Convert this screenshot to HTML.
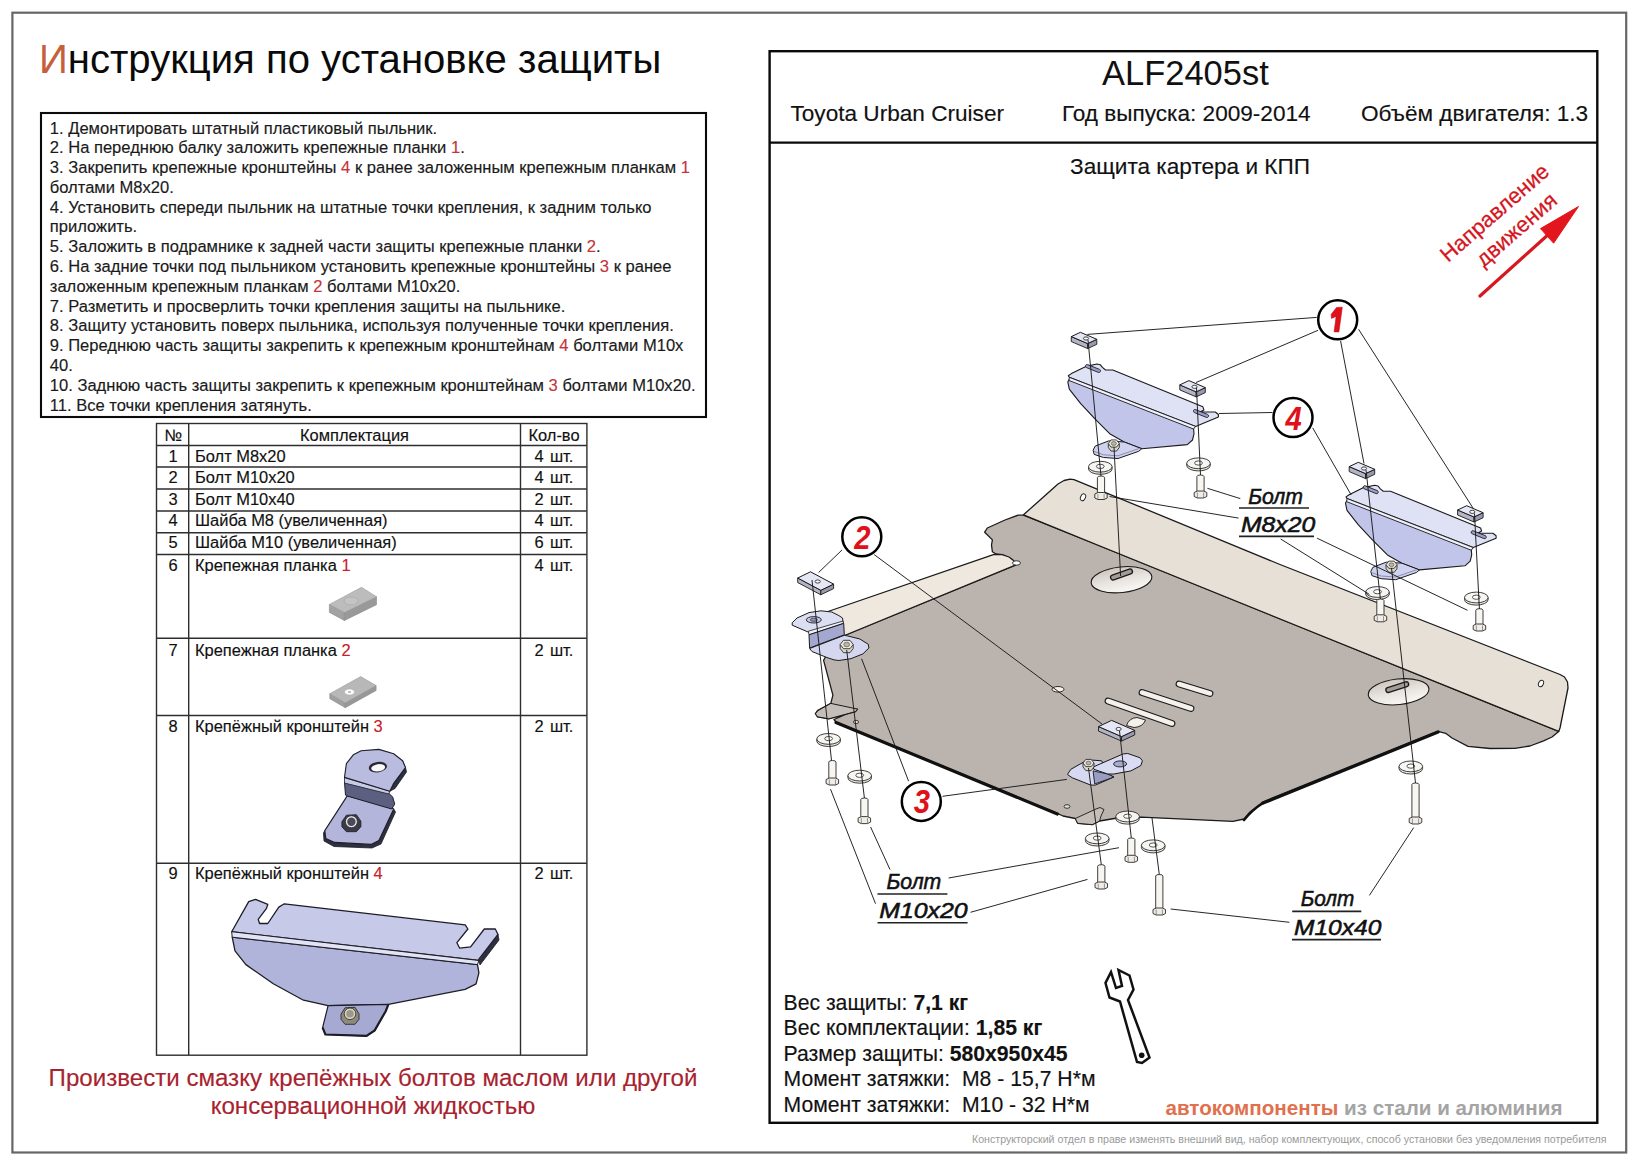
<!DOCTYPE html>
<html lang="ru">
<head>
<meta charset="utf-8">
<title>ALF2405st — Инструкция по установке защиты</title>
<style>
html,body{margin:0;padding:0;background:#fff;}
body{width:1642px;height:1168px;position:relative;overflow:hidden;font-family:"Liberation Sans",sans-serif;color:#111;}
#steps,.cell,#specs,.hdr,#foot{-webkit-text-stroke:0.15px currentColor;}
.abs{position:absolute;white-space:nowrap;}
.r{color:#c8202c;}
#title{left:39px;top:38.5px;font-size:40.1px;line-height:40px;color:#0a0a0a;}
#title .first{color:#c4603a;}
#steps{left:49.8px;top:118.5px;font-size:16.56px;line-height:19.8px;color:#1a1a1a;}
#steps .r{color:#c4343a;}
.cell{position:absolute;font-size:16.45px;line-height:20px;white-space:nowrap;color:#111;}
.num{text-align:center;width:32px;left:157px;}
.qty{text-align:center;width:66px;left:521px;word-spacing:1.6px;}
.name{left:195px;}
#foot{left:0;width:746px;text-align:center;top:1063.5px;font-size:24.1px;line-height:28px;color:#a8222e;}
.hdr{font-size:22.6px;line-height:26px;color:#111;}
#specs{left:783.5px;top:990px;font-size:21.2px;line-height:25.4px;color:#111;}
#specs b{font-weight:bold;}
#logo{left:1165.5px;top:1096px;font-size:20.6px;line-height:24px;font-weight:bold;}
#logo .a{color:#e0704e;}
#logo .b{color:#a4a4a4;}
#discl{left:972px;top:1133px;font-size:10.65px;line-height:12px;color:#9a9a9a;}
svg{position:absolute;left:0;top:0;}
</style>
</head>
<body>
<svg id="frame" width="1642" height="1168" viewBox="0 0 1642 1168">
  <!-- outer page border -->
  <rect x="12.4" y="12.7" width="1613.8" height="1139.8" fill="none" stroke="#666" stroke-width="2.2"/>
  <!-- instructions box -->
  <rect x="41" y="113" width="665" height="304" fill="none" stroke="#0a0a0a" stroke-width="2.1"/>
  <!-- right panel -->
  <rect x="769.6" y="51.2" width="827.7" height="1071.6" fill="none" stroke="#0a0a0a" stroke-width="2.4"/>
  <line x1="769" y1="142.6" x2="1597" y2="142.6" stroke="#0a0a0a" stroke-width="2.2"/>
  <!-- table -->
  <g stroke="#2e2e2e" stroke-width="1.4" fill="none">
    <rect x="156.5" y="423.5" width="430.4" height="631.7"/>
    <line x1="188.7" y1="424" x2="188.7" y2="1055"/>
    <line x1="520.5" y1="424" x2="520.5" y2="1055"/>
    <line x1="156.5" y1="445.5" x2="586.9" y2="445.5"/>
    <line x1="156.5" y1="467" x2="586.9" y2="467"/>
    <line x1="156.5" y1="489" x2="586.9" y2="489"/>
    <line x1="156.5" y1="511" x2="586.9" y2="511"/>
    <line x1="156.5" y1="532.7" x2="586.9" y2="532.7"/>
    <line x1="156.5" y1="554.5" x2="586.9" y2="554.5"/>
    <line x1="156.5" y1="638.3" x2="586.9" y2="638.3"/>
    <line x1="156.5" y1="715.5" x2="586.9" y2="715.5"/>
    <line x1="156.5" y1="863.3" x2="586.9" y2="863.3"/>
  </g>
<polygon points="329.4,604.4 344.4,612.5 344.4,620.5 329.4,612.4" fill="#a2a2a2" stroke="#8a8a8a" stroke-width="0.6" stroke-linejoin="round"/>
<polygon points="344.4,612.5 376.5,596.7 376.5,604.7 344.4,620.5" fill="#999999" stroke="#8a8a8a" stroke-width="0.6" stroke-linejoin="round"/>
<polygon points="329.4,604.4 361.5,587.3 376.5,596.7 344.4,612.5" fill="#bcbcbc" stroke="#9a9a9a" stroke-width="0.6" stroke-linejoin="round"/>
<ellipse cx="351" cy="601" rx="7" ry="4" fill="#c4c4c4" stroke="#a6a6a6" stroke-width="0.6"/>
<polygon points="329.8,693.7 345.3,702.7 345.3,707.7 329.8,698.7" fill="#a0a0a0" stroke="#8a8a8a" stroke-width="0.6" stroke-linejoin="round"/>
<polygon points="345.3,702.7 376.1,685.5 376.1,690.5 345.3,707.7" fill="#989898" stroke="#8a8a8a" stroke-width="0.6" stroke-linejoin="round"/>
<polygon points="329.8,693.7 360.7,676.6 376.1,685.5 345.3,702.7" fill="#b8b8b8" stroke="#9a9a9a" stroke-width="0.6" stroke-linejoin="round"/>
<ellipse cx="349.5" cy="692" rx="5" ry="3" fill="#fff" stroke="#aaa" stroke-width="0.5"/>
<ellipse cx="349.5" cy="692" rx="1.8" ry="1.1" fill="#bbb"/>
<polygon points="324.8,830.6 325.8,838.5 334.6,842.4 371.1,844.4 378.9,840.4 393.7,809.0 395.5,812.0 381.0,844.0 372.0,848.0 334.0,846.5 324.0,841.0 323.5,833.0" fill="#2e2f40" stroke="#1d1d28" stroke-width="0.8" stroke-linejoin="round"/>
<polygon points="347.4,795.6 391.7,808.0 393.7,809.0 378.9,840.4 371.1,844.4 334.6,842.4 325.8,838.5 324.8,830.6" fill="#b3b6da" stroke="#1d1d28" stroke-width="1.1" stroke-linejoin="round"/>
<polygon points="344.5,782.3 388.8,793.2 392.7,797.1 394.7,804.0 391.7,809.0 347.4,796.1 345.5,795.1" fill="#5d5f80" stroke="#1d1d28" stroke-width="1.0" stroke-linejoin="round"/>
<polygon points="344.5,777.4 389.8,791.2 388.8,794.0 344.5,783.0" fill="#c9cbe6" stroke="#1d1d28" stroke-width="0.8" stroke-linejoin="round"/>
<polygon points="402.6,760.7 405.5,767.6 406.5,772.0 395.0,788.5 389.8,791.2 393.7,783.3" fill="#2e2f40" stroke="#1d1d28" stroke-width="0.8" stroke-linejoin="round"/>
<polygon points="344.5,777.4 346.4,763.6 353.3,754.8 361.2,750.8 378.9,749.4 393.7,753.8 402.6,760.7 405.5,767.6 393.7,783.3 389.8,791.2" fill="#babcdf" stroke="#1d1d28" stroke-width="1.1" stroke-linejoin="round"/>
<ellipse cx="377.9" cy="767.1" rx="9.2" ry="5.2" transform="rotate(-8 377.9 767.1)" fill="#2a2a38"/>
<ellipse cx="378.2" cy="767.8" rx="7" ry="3.6" transform="rotate(-8 378.2 767.8)" fill="#fafafa"/>
<polygon points="341.9,821.7 346.4,815.2 356.4,814.7 360.9,821.2 360.9,826.7 356.4,831.7 346.4,831.7 341.9,826.7" fill="#3a3a46" stroke="#1d1d28" stroke-width="0.8"/>
<circle cx="351.4" cy="821.7" r="6" fill="#e8e8ec" stroke="#2a2a2a" stroke-width="0.8"/>
<circle cx="351.4" cy="821.7" r="4.2" fill="#4a4a56"/>
<polygon points="232.2,937.2 477.5,964.6 478.9,972.8 476.1,983.8 465.2,989.3 388.4,1004.4 328.1,1005.7 303.5,1000.2 273.3,983.8 245.9,964.6 235.0,950.9" fill="#b0b3da" stroke="#1d1d28" stroke-width="1.3" stroke-linejoin="round"/>
<polygon points="328.1,1005.7 388.4,1004.4 385.7,1011.2 374.7,1030.4 366.5,1035.9 325.4,1034.5 322.6,1027.6" fill="#a6a9d2" stroke="#1d1d28" stroke-width="1.2" stroke-linejoin="round"/>
<path d="M322.6,1027.6 L325.4,1034.5 L366.5,1035.9 L374.7,1030.4 L385.7,1011.2 L388.4,1004.4" fill="none" stroke="#1d1d28" stroke-width="2.2"/>
<polygon points="231.7,931.7 248.7,901.6 255.5,899.4 267.8,904.3 266.5,908.4 258.2,919.4 259.6,923.5 267.8,923.5 278.8,907.1 284.3,903.8 465.2,924.9 467.9,929.0 456.9,942.7 459.7,948.2 470.6,946.8 484.3,929.0 495.3,929.0 498.0,934.5 478.9,959.1 478.9,960.5" fill="#c6c9e8" stroke="#1d1d28" stroke-width="1.3" stroke-linejoin="round"/>
<path d="M498,934.5 L499,940 L480,965 L478.9,960.5 Z" fill="#2e2f40" stroke="#1d1d28" stroke-width="0.8"/>
<polygon points="231.7,931.7 478.9,960.5 477.5,964.6 232.2,937.2" fill="#e2e4f5" stroke="#1d1d28" stroke-width="1.0" stroke-linejoin="round"/>
<polygon points="341.0,1014.3 345.0,1007.8 355.0,1007.3 359.0,1013.8 359.0,1019.3 355.0,1024.3 345.0,1024.3 341.0,1019.3" fill="#8d8a7c" stroke="#1d1d28" stroke-width="0.8"/>
<circle cx="350" cy="1013.8" r="5.8" fill="#d8d4c6" stroke="#2a2a2a" stroke-width="0.8"/>
<circle cx="350" cy="1013.8" r="3.8" fill="#9d9888"/>
</svg>
<svg id="drawing" width="1642" height="1168" viewBox="0 0 1642 1168">
<defs><linearGradient id="cone" x1="0" y1="0" x2="0.25" y2="1"><stop offset="0" stop-color="#c9c1ba"/><stop offset="0.55" stop-color="#e6e1dc"/><stop offset="1" stop-color="#f7f5f2"/></linearGradient></defs>
<polygon points="1018.0,515.2 1023.5,515.2 1100.0,546.0 1200.0,586.5 1300.0,627.0 1558.7,731.4 1552.0,737.0 1543.6,740.8 1530.0,746.0 1515.0,748.3 1490.0,748.5 1468.0,746.4 1452.0,738.0 1445.7,733.3 1438.0,731.4 1317.7,780.0 1263.0,802.0 1250.0,812.0 1244.0,819.0 1232.9,821.4 1141.0,817.2 1114.3,818.5 1099.6,821.0 1092.3,824.6 1077.7,823.3 1075.3,818.5 1063.0,816.0 1057.4,813.3 836.0,722.0 834.0,719.5 857.5,709.1 855.5,711.6 828.8,718.8 817.5,716.8 815.4,713.7 817.5,710.6 830.8,703.4 832.9,695.2 823.6,660.3 835.0,640.0 844.5,635.5 1016.0,564.9 1016.0,563.4 1011.6,559.0 1002.1,554.6 995.8,554.0 992.4,551.8 991.5,545.0 992.4,539.9 984.7,532.2 987.3,528.0 1005.0,520.0" fill="#bbb3ad" stroke="#1a1a1a" stroke-width="1.3" stroke-linejoin="round" />
<polygon points="1023.5,514.8 1058.0,484.0 1064.0,480.5 1070.0,479.2 1074.0,479.6 1280.0,564.5 1560.0,674.5 1564.5,677.0 1567.5,682.0 1568.0,688.0 1560.0,728.0 1558.7,731.4 1300.0,627.0 1200.0,586.5 1100.0,546.0" fill="#e7e0d6" stroke="#1a1a1a" stroke-width="1.3" stroke-linejoin="round" />
<polygon points="828.0,611.5 993.4,554.6 1002.1,554.6 1009.0,557.0 1013.5,560.5 1016.0,564.9 844.5,635.5 830.0,626.0" fill="#eee8df" stroke="#1a1a1a" stroke-width="1.2" stroke-linejoin="round" />
<path d="M836,722.5 L1057.4,814" fill="none" stroke="#111" stroke-width="3.2" stroke-linejoin="round" stroke-linecap="round" />
<path d="M1263,803 L1438,732" fill="none" stroke="#111" stroke-width="3.4" stroke-linejoin="round" stroke-linecap="round" />
<path d="M1244,820 Q1252,810 1263,803" fill="none" stroke="#111" stroke-width="2.6" stroke-linejoin="round" stroke-linecap="round" />
<polygon points="818.0,710.6 830.8,703.4 857.5,709.1 855.5,711.6 828.8,718.8 817.5,716.8 815.4,713.7" fill="#c5beb8" stroke="#1a1a1a" stroke-width="1.0" stroke-linejoin="round" />
<polygon points="1075.3,818.5 1096.0,809.0 1100.0,807.5 1104.0,809.5 1101.0,816.0 1099.6,821.0 1092.3,824.6 1077.7,823.3" fill="#c5beb8" stroke="#1a1a1a" stroke-width="0.9" stroke-linejoin="round" />
<ellipse cx="1121.5" cy="579.7" rx="30.5" ry="12.8" transform="rotate(-6 1121.5 579.7)" fill="url(#cone)" stroke="#1a1a1a" stroke-width="1.1"/>
<ellipse cx="1398.6" cy="691.8" rx="30.5" ry="12.8" transform="rotate(-6 1398.6 691.8)" fill="url(#cone)" stroke="#1a1a1a" stroke-width="1.1"/>
<path d="M1113,577.5 L1130,571.5" fill="none" stroke="#1a1a1a" stroke-width="6.2" stroke-linejoin="round" stroke-linecap="round" />
<path d="M1113,577.5 L1130,571.5" fill="none" stroke="#a39b95" stroke-width="3.6" stroke-linejoin="round" stroke-linecap="round" />
<path d="M1388.3,690 L1406.2,684.3" fill="none" stroke="#1a1a1a" stroke-width="6.2" stroke-linejoin="round" stroke-linecap="round" />
<path d="M1388.3,690 L1406.2,684.3" fill="none" stroke="#a39b95" stroke-width="3.6" stroke-linejoin="round" stroke-linecap="round" />
<path d="M1108,701 L1172,723.5" fill="none" stroke="#1a1a1a" stroke-width="6.800000000000001" stroke-linejoin="round" stroke-linecap="round" />
<path d="M1108,701 L1172,723.5" fill="none" stroke="#f4f1ec" stroke-width="4.6000000000000005" stroke-linejoin="round" stroke-linecap="round" />
<path d="M1142,692.5 L1191,708.5" fill="none" stroke="#1a1a1a" stroke-width="6.800000000000001" stroke-linejoin="round" stroke-linecap="round" />
<path d="M1142,692.5 L1191,708.5" fill="none" stroke="#f4f1ec" stroke-width="4.6000000000000005" stroke-linejoin="round" stroke-linecap="round" />
<path d="M1179,684 L1210,693.5" fill="none" stroke="#1a1a1a" stroke-width="6.800000000000001" stroke-linejoin="round" stroke-linecap="round" />
<path d="M1179,684 L1210,693.5" fill="none" stroke="#f4f1ec" stroke-width="4.6000000000000005" stroke-linejoin="round" stroke-linecap="round" />
<ellipse cx="1058" cy="689.3" rx="6" ry="2.8" fill="#f4f1ec" stroke="#1a1a1a" stroke-width="0.9"/>
<ellipse cx="1083" cy="497.3" rx="2.4" ry="3.6" transform="rotate(25 1083 497.3)" fill="#fff" stroke="#1a1a1a" stroke-width="0.9"/>
<ellipse cx="1541" cy="683.5" rx="2.4" ry="3.4" transform="rotate(25 1541 683.5)" fill="#fff" stroke="#1a1a1a" stroke-width="0.9"/>
<ellipse cx="1016.5" cy="563" rx="4" ry="2.2" fill="#fff" stroke="#1a1a1a" stroke-width="0.9"/>
<ellipse cx="856" cy="722" rx="2.6" ry="1.7" fill="#ddd" stroke="#1a1a1a" stroke-width="0.8"/>
<ellipse cx="1067" cy="806.5" rx="3" ry="1.8" fill="#ddd" stroke="#1a1a1a" stroke-width="0.8"/>
<path d="M1126.5,725.5 Q1129,718 1137,717.5 L1145.5,720 Q1143,727 1134,727.5 Z" fill="#f4f1ec" stroke="#1a1a1a" stroke-width="0.9"/>
<polygon points="1069.3,379.3 1193.5,427.5 1194.0,433.7 1192.5,440.0 1187.3,444.6 1141.8,448.7 1124.2,442.0 1109.7,433.7 1095.2,419.2 1080.7,403.7 1069.3,389.2 1067.8,381.9" fill="#c2c5ea" stroke="#1a1a1a" stroke-width="1.1" stroke-linejoin="round" />
<polygon points="1093.1,450.2 1095.2,446.1 1108.7,440.9 1124.2,442.0 1141.8,448.7 1138.7,451.3 1118.0,458.5 1103.5,457.5 1094.2,454.4" fill="#d0d3ef" stroke="#1a1a1a" stroke-width="1.0" stroke-linejoin="round" />
<path d="M1094.2,451.5 L1103.5,454.8 L1118.0,455.8 L1138.7,448.6" fill="none" stroke="#6d6f90" stroke-width="0.7" stroke-linejoin="round" stroke-linecap="round" />
<polygon points="1068.3,375.7 1071.4,373.6 1085.9,366.4 1097.0,364.0 1100.4,364.8 1102.4,367.4 1105.6,370.0 1112.8,370.0 1202.9,406.8 1203.9,409.9 1200.0,412.0 1215.3,412.0 1218.4,414.5 1218.4,417.1 1195.6,426.4 1069.3,377.3" fill="#dfe1f5" stroke="#1a1a1a" stroke-width="1.1" stroke-linejoin="round" />
<polygon points="1069.3,377.3 1195.6,426.4 1193.5,429.0 1069.0,380.5" fill="#eef0fb" stroke="#1a1a1a" stroke-width="0.9" stroke-linejoin="round" />
<rect x="1085.0" y="366.9" width="16" height="3.2" rx="1.6" transform="rotate(22 1093.0 368.5)" fill="#9b9fc8" stroke="#1a1a1a" stroke-width="0.8"/>
<rect x="1193.0" y="411.9" width="16" height="3.2" rx="1.6" transform="rotate(22 1201.0 413.5)" fill="#9b9fc8" stroke="#1a1a1a" stroke-width="0.8"/>
<path d="M1108.3,443.5 v4 L1111.0,451.1 L1116.5,451.1 L1119.3,447.5 v-4" fill="#d9d5c8" stroke="#1a1a1a" stroke-width="0.8"/>
<polygon points="1119.3,443.5 1116.5,447.1 1111.0,447.1 1108.3,443.5 1111.0,439.9 1116.5,439.9" fill="#eeebe2" stroke="#1a1a1a" stroke-width="0.8" stroke-linejoin="round" />
<ellipse cx="1113.8" cy="443.5" rx="2.5" ry="1.9" fill="#bdb8a8" stroke="#444" stroke-width="0.6"/>
<polygon points="1347.0,500.5 1471.2,548.7 1471.7,554.9 1470.2,561.2 1465.0,565.8 1419.5,569.9 1401.9,563.2 1387.4,554.9 1372.9,540.4 1358.4,524.9 1347.0,510.4 1345.5,503.1" fill="#c2c5ea" stroke="#1a1a1a" stroke-width="1.1" stroke-linejoin="round" />
<polygon points="1370.8,571.4 1372.9,567.3 1386.4,562.1 1401.9,563.2 1419.5,569.9 1416.4,572.5 1395.7,579.7 1381.2,578.7 1371.9,575.6" fill="#d0d3ef" stroke="#1a1a1a" stroke-width="1.0" stroke-linejoin="round" />
<path d="M1371.9,572.7 L1381.2,576.0 L1395.7,577.0 L1416.4,569.8" fill="none" stroke="#6d6f90" stroke-width="0.7" stroke-linejoin="round" stroke-linecap="round" />
<polygon points="1346.0,496.9 1349.1,494.8 1363.6,487.6 1374.7,485.2 1378.1,486.0 1380.1,488.6 1383.3,491.2 1390.5,491.2 1480.6,528.0 1481.6,531.1 1477.7,533.2 1493.0,533.2 1496.1,535.7 1496.1,538.3 1473.3,547.6 1347.0,498.5" fill="#dfe1f5" stroke="#1a1a1a" stroke-width="1.1" stroke-linejoin="round" />
<polygon points="1347.0,498.5 1473.3,547.6 1471.2,550.2 1346.7,501.7" fill="#eef0fb" stroke="#1a1a1a" stroke-width="0.9" stroke-linejoin="round" />
<rect x="1362.7" y="488.1" width="16" height="3.2" rx="1.6" transform="rotate(22 1370.7 489.7)" fill="#9b9fc8" stroke="#1a1a1a" stroke-width="0.8"/>
<rect x="1470.7" y="533.1" width="16" height="3.2" rx="1.6" transform="rotate(22 1478.7 534.7)" fill="#9b9fc8" stroke="#1a1a1a" stroke-width="0.8"/>
<path d="M1386.0,564.7 v4 L1388.8,572.3 L1394.2,572.3 L1397.0,568.7 v-4" fill="#d9d5c8" stroke="#1a1a1a" stroke-width="0.8"/>
<polygon points="1397.0,564.7 1394.2,568.3 1388.8,568.3 1386.0,564.7 1388.8,561.1 1394.2,561.1" fill="#eeebe2" stroke="#1a1a1a" stroke-width="0.8" stroke-linejoin="round" />
<ellipse cx="1391.5" cy="564.7" rx="2.5" ry="1.9" fill="#bdb8a8" stroke="#444" stroke-width="0.6"/>
<polygon points="792.2,622.8 797.0,618.0 809.0,612.6 821.0,610.8 831.7,612.0 838.9,615.6 842.5,618.0 843.1,622.8 809.0,632.4 792.2,625.2" fill="#dcdff2" stroke="#1a1a1a" stroke-width="1.0" stroke-linejoin="round" />
<polygon points="808.4,631.2 843.1,621.0 843.4,623.4 809.0,634.8" fill="#f0f1fb" stroke="#1a1a1a" stroke-width="0.8" stroke-linejoin="round" />
<polygon points="809.0,634.8 843.7,623.4 844.3,634.8 809.6,648.0" fill="#a4a7cf" stroke="#1a1a1a" stroke-width="1.0" stroke-linejoin="round" />
<polygon points="809.6,648.5 844.3,635.3 847.9,636.0 859.9,639.0 868.3,644.3 868.9,648.0 862.9,653.9 850.9,658.7 838.9,660.5 834.1,659.9 826.9,657.5 812.0,651.5" fill="#d4d7ef" stroke="#1a1a1a" stroke-width="1.0" stroke-linejoin="round" />
<ellipse cx="813.8" cy="619.8" rx="7.5" ry="3.2" fill="#c4c7e6" stroke="#1a1a1a" stroke-width="0.9"/>
<ellipse cx="813.8" cy="619.8" rx="3.5" ry="1.6" fill="#8f92b8" stroke="#1a1a1a" stroke-width="0.6"/>
<path d="M840.2,644.5 v4 L843.5,652.7 L850.0,652.7 L853.2,648.5 v-4" fill="#d9d5c8" stroke="#1a1a1a" stroke-width="0.8"/>
<polygon points="853.2,644.5 850.0,648.7 843.5,648.7 840.2,644.5 843.5,640.3 850.0,640.3" fill="#eeebe2" stroke="#1a1a1a" stroke-width="0.8" stroke-linejoin="round" />
<ellipse cx="846.7" cy="644.5" rx="2.9" ry="2.3" fill="#bdb8a8" stroke="#444" stroke-width="0.6"/>
<polygon points="1067.7,774.0 1070.8,769.3 1083.1,762.4 1092.4,760.1 1101.6,760.8 1107.8,774.0 1113.9,777.0 1095.4,785.1 1090.8,785.1 1072.3,777.8 1067.7,774.7" fill="#d6d9f1" stroke="#1a1a1a" stroke-width="1.0" stroke-linejoin="round" />
<polygon points="1093.1,770.9 1107.8,774.0 1113.9,777.0 1094.7,784.0" fill="#9a9dc3" stroke="#1a1a1a" stroke-width="0.9" stroke-linejoin="round" />
<polygon points="1093.1,767.0 1123.2,753.9 1127.8,753.5 1140.1,757.8 1142.4,760.8 1140.9,765.5 1130.9,770.9 1113.9,774.0 1107.8,774.0 1093.9,769.3" fill="#dadcf3" stroke="#1a1a1a" stroke-width="1.0" stroke-linejoin="round" />
<ellipse cx="1120.1" cy="763.9" rx="6.5" ry="3" fill="#a7aad0" stroke="#1a1a1a" stroke-width="0.9"/>
<path d="M1083.0,763.0 v4 L1085.8,770.6 L1091.2,770.6 L1094.0,767.0 v-4" fill="#d9d5c8" stroke="#1a1a1a" stroke-width="0.8"/>
<polygon points="1094.0,763.0 1091.2,766.6 1085.8,766.6 1083.0,763.0 1085.8,759.4 1091.2,759.4" fill="#eeebe2" stroke="#1a1a1a" stroke-width="0.8" stroke-linejoin="round" />
<ellipse cx="1088.5" cy="763.0" rx="2.5" ry="1.9" fill="#bdb8a8" stroke="#444" stroke-width="0.6"/>
<polygon points="1071.3,336.6 1087.7,343.6 1087.7,348.6 1071.3,341.6" fill="#b3b4c6" stroke="#1a1a1a" stroke-width="0.9" stroke-linejoin="round" />
<polygon points="1087.7,343.6 1096.8,339.3 1096.8,344.3 1087.7,348.6" fill="#9899ae" stroke="#1a1a1a" stroke-width="0.9" stroke-linejoin="round" />
<polygon points="1071.3,336.6 1080.4,332.3 1096.8,339.3 1087.7,343.6" fill="#e6e7f4" stroke="#1a1a1a" stroke-width="1.0" stroke-linejoin="round" />
<ellipse cx="1086.0" cy="338.5" rx="2.6" ry="1.6" fill="#f5f5fa" stroke="#1a1a1a" stroke-width="0.8"/>
<polygon points="1179.8,384.9 1196.2,391.9 1196.2,396.9 1179.8,389.9" fill="#b3b4c6" stroke="#1a1a1a" stroke-width="0.9" stroke-linejoin="round" />
<polygon points="1196.2,391.9 1205.3,387.6 1205.3,392.6 1196.2,396.9" fill="#9899ae" stroke="#1a1a1a" stroke-width="0.9" stroke-linejoin="round" />
<polygon points="1179.8,384.9 1188.9,380.6 1205.3,387.6 1196.2,391.9" fill="#e6e7f4" stroke="#1a1a1a" stroke-width="1.0" stroke-linejoin="round" />
<ellipse cx="1194.5" cy="386.8" rx="2.6" ry="1.6" fill="#f5f5fa" stroke="#1a1a1a" stroke-width="0.8"/>
<polygon points="1349.2,466.6 1365.6,473.6 1365.6,478.6 1349.2,471.6" fill="#b3b4c6" stroke="#1a1a1a" stroke-width="0.9" stroke-linejoin="round" />
<polygon points="1365.6,473.6 1374.7,469.3 1374.7,474.3 1365.6,478.6" fill="#9899ae" stroke="#1a1a1a" stroke-width="0.9" stroke-linejoin="round" />
<polygon points="1349.2,466.6 1358.3,462.3 1374.7,469.3 1365.6,473.6" fill="#e6e7f4" stroke="#1a1a1a" stroke-width="1.0" stroke-linejoin="round" />
<ellipse cx="1364.0" cy="468.5" rx="2.6" ry="1.6" fill="#f5f5fa" stroke="#1a1a1a" stroke-width="0.8"/>
<polygon points="1457.6,510.0 1474.0,517.0 1474.0,522.0 1457.6,515.0" fill="#b3b4c6" stroke="#1a1a1a" stroke-width="0.9" stroke-linejoin="round" />
<polygon points="1474.0,517.0 1483.1,512.7 1483.1,517.7 1474.0,522.0" fill="#9899ae" stroke="#1a1a1a" stroke-width="0.9" stroke-linejoin="round" />
<polygon points="1457.6,510.0 1466.7,505.7 1483.1,512.7 1474.0,517.0" fill="#e6e7f4" stroke="#1a1a1a" stroke-width="1.0" stroke-linejoin="round" />
<ellipse cx="1472.3" cy="511.9" rx="2.6" ry="1.6" fill="#f5f5fa" stroke="#1a1a1a" stroke-width="0.8"/>
<polygon points="797.7,578.0 820.8,590.3 820.8,594.8 797.7,582.5" fill="#b3b4c6" stroke="#1a1a1a" stroke-width="0.9" stroke-linejoin="round" />
<polygon points="820.8,590.3 833.6,584.1 833.6,588.6 820.8,594.8" fill="#9899ae" stroke="#1a1a1a" stroke-width="0.9" stroke-linejoin="round" />
<polygon points="797.7,578.0 810.5,571.8 833.6,584.1 820.8,590.3" fill="#e6e7f4" stroke="#1a1a1a" stroke-width="1.0" stroke-linejoin="round" />
<ellipse cx="817.7" cy="581.5" rx="2.6" ry="1.6" fill="#f5f5fa" stroke="#1a1a1a" stroke-width="0.8"/>
<polygon points="1098.5,726.6 1121.6,736.6 1121.6,741.1 1098.5,731.1" fill="#b3b4c6" stroke="#1a1a1a" stroke-width="0.9" stroke-linejoin="round" />
<polygon points="1121.6,736.6 1134.7,730.4 1134.7,734.9 1121.6,741.1" fill="#9899ae" stroke="#1a1a1a" stroke-width="0.9" stroke-linejoin="round" />
<polygon points="1098.5,726.6 1111.6,720.4 1134.7,730.4 1121.6,736.6" fill="#e6e7f4" stroke="#1a1a1a" stroke-width="1.0" stroke-linejoin="round" />
<ellipse cx="1118.6" cy="729.0" rx="2.6" ry="1.6" fill="#f5f5fa" stroke="#1a1a1a" stroke-width="0.8"/>
<path d="M1088.5,466.7 v2.2 a11.8,5.4 0 0 0 23.6,0 v-2.2" fill="#efece6" stroke="#2a2a2a" stroke-width="0.9"/>
<ellipse cx="1100.3" cy="466.7" rx="11.8" ry="5.4" fill="#f7f5f1" stroke="#2a2a2a" stroke-width="0.9"/>
<ellipse cx="1100.3" cy="466.4" rx="3.9" ry="2.1" fill="#fff" stroke="#2a2a2a" stroke-width="0.8"/>
<path d="M1186.7,463.3 v2.2 a11.8,5.4 0 0 0 23.6,0 v-2.2" fill="#efece6" stroke="#2a2a2a" stroke-width="0.9"/>
<ellipse cx="1198.5" cy="463.3" rx="11.8" ry="5.4" fill="#f7f5f1" stroke="#2a2a2a" stroke-width="0.9"/>
<ellipse cx="1198.5" cy="463.0" rx="3.9" ry="2.1" fill="#fff" stroke="#2a2a2a" stroke-width="0.8"/>
<path d="M1365.7,592.0 v2.2 a11.8,5.4 0 0 0 23.6,0 v-2.2" fill="#efece6" stroke="#2a2a2a" stroke-width="0.9"/>
<ellipse cx="1377.5" cy="592.0" rx="11.8" ry="5.4" fill="#f7f5f1" stroke="#2a2a2a" stroke-width="0.9"/>
<ellipse cx="1377.5" cy="591.7" rx="3.9" ry="2.1" fill="#fff" stroke="#2a2a2a" stroke-width="0.8"/>
<path d="M1464.5,597.5 v2.2 a11.8,5.4 0 0 0 23.6,0 v-2.2" fill="#efece6" stroke="#2a2a2a" stroke-width="0.9"/>
<ellipse cx="1476.3" cy="597.5" rx="11.8" ry="5.4" fill="#f7f5f1" stroke="#2a2a2a" stroke-width="0.9"/>
<ellipse cx="1476.3" cy="597.2" rx="3.9" ry="2.1" fill="#fff" stroke="#2a2a2a" stroke-width="0.8"/>
<path d="M816.8,738.9 v2.2 a11.8,5.4 0 0 0 23.6,0 v-2.2" fill="#efece6" stroke="#2a2a2a" stroke-width="0.9"/>
<ellipse cx="828.6" cy="738.9" rx="11.8" ry="5.4" fill="#f7f5f1" stroke="#2a2a2a" stroke-width="0.9"/>
<ellipse cx="828.6" cy="738.6" rx="3.9" ry="2.1" fill="#fff" stroke="#2a2a2a" stroke-width="0.8"/>
<path d="M847.9,775.6 v2.2 a11.8,5.4 0 0 0 23.6,0 v-2.2" fill="#efece6" stroke="#2a2a2a" stroke-width="0.9"/>
<ellipse cx="859.7" cy="775.6" rx="11.8" ry="5.4" fill="#f7f5f1" stroke="#2a2a2a" stroke-width="0.9"/>
<ellipse cx="859.7" cy="775.3" rx="3.9" ry="2.1" fill="#fff" stroke="#2a2a2a" stroke-width="0.8"/>
<path d="M1085.4,838.4 v2.2 a11.8,5.4 0 0 0 23.6,0 v-2.2" fill="#efece6" stroke="#2a2a2a" stroke-width="0.9"/>
<ellipse cx="1097.2" cy="838.4" rx="11.8" ry="5.4" fill="#f7f5f1" stroke="#2a2a2a" stroke-width="0.9"/>
<ellipse cx="1097.2" cy="838.1" rx="3.9" ry="2.1" fill="#fff" stroke="#2a2a2a" stroke-width="0.8"/>
<path d="M1115.8,816.5 v2.2 a11.8,5.4 0 0 0 23.6,0 v-2.2" fill="#efece6" stroke="#2a2a2a" stroke-width="0.9"/>
<ellipse cx="1127.6" cy="816.5" rx="11.8" ry="5.4" fill="#f7f5f1" stroke="#2a2a2a" stroke-width="0.9"/>
<ellipse cx="1127.6" cy="816.2" rx="3.9" ry="2.1" fill="#fff" stroke="#2a2a2a" stroke-width="0.8"/>
<path d="M1141.4,845.3 v2.2 a11.8,5.4 0 0 0 23.6,0 v-2.2" fill="#efece6" stroke="#2a2a2a" stroke-width="0.9"/>
<ellipse cx="1153.2" cy="845.3" rx="11.8" ry="5.4" fill="#f7f5f1" stroke="#2a2a2a" stroke-width="0.9"/>
<ellipse cx="1153.2" cy="845.0" rx="3.9" ry="2.1" fill="#fff" stroke="#2a2a2a" stroke-width="0.8"/>
<path d="M1399.0,766.4 v2.2 a11.8,5.4 0 0 0 23.6,0 v-2.2" fill="#efece6" stroke="#2a2a2a" stroke-width="0.9"/>
<ellipse cx="1410.8" cy="766.4" rx="11.8" ry="5.4" fill="#f7f5f1" stroke="#2a2a2a" stroke-width="0.9"/>
<ellipse cx="1410.8" cy="766.1" rx="3.9" ry="2.1" fill="#fff" stroke="#2a2a2a" stroke-width="0.8"/>
<path d="M1097.4,494.0 V477.5 Q1097.4,476.0 1101.0,476.0 Q1104.6,476.0 1104.6,477.5 V494.0" fill="#f8f6f1" stroke="#2a2a2a" stroke-width="0.9"/>
<polygon points="1094.8,494.0 1097.9,492.5 1104.1,492.5 1107.2,494.0 1107.2,498.0 1104.1,499.5 1097.9,499.5 1094.8,498.0" fill="#f1ede6" stroke="#2a2a2a" stroke-width="0.9"/>
<line x1="1097.9" y1="494.0" x2="1097.9" y2="499.5" stroke="#555" stroke-width="0.6"/>
<line x1="1104.1" y1="494.0" x2="1104.1" y2="499.5" stroke="#555" stroke-width="0.6"/>
<path d="M1196.9,492.5 V476.5 Q1196.9,475.0 1200.5,475.0 Q1204.1,475.0 1204.1,476.5 V492.5" fill="#f8f6f1" stroke="#2a2a2a" stroke-width="0.9"/>
<polygon points="1194.2,492.5 1197.4,491.0 1203.6,491.0 1206.8,492.5 1206.8,496.5 1203.6,498.0 1197.4,498.0 1194.2,496.5" fill="#f1ede6" stroke="#2a2a2a" stroke-width="0.9"/>
<line x1="1197.4" y1="492.5" x2="1197.4" y2="498.0" stroke="#555" stroke-width="0.6"/>
<line x1="1203.6" y1="492.5" x2="1203.6" y2="498.0" stroke="#555" stroke-width="0.6"/>
<path d="M1376.8,616.3 V600.5 Q1376.8,599.0 1380.4,599.0 Q1384.0,599.0 1384.0,600.5 V616.3" fill="#f8f6f1" stroke="#2a2a2a" stroke-width="0.9"/>
<polygon points="1374.2,616.3 1377.3,614.8 1383.5,614.8 1386.7,616.3 1386.7,620.3 1383.5,621.8 1377.3,621.8 1374.2,620.3" fill="#f1ede6" stroke="#2a2a2a" stroke-width="0.9"/>
<line x1="1377.3" y1="616.3" x2="1377.3" y2="621.8" stroke="#555" stroke-width="0.6"/>
<line x1="1383.5" y1="616.3" x2="1383.5" y2="621.8" stroke="#555" stroke-width="0.6"/>
<path d="M1475.8,625.5 V610.2 Q1475.8,608.7 1479.4,608.7 Q1483.0,608.7 1483.0,610.2 V625.5" fill="#f8f6f1" stroke="#2a2a2a" stroke-width="0.9"/>
<polygon points="1473.2,625.5 1476.3,624.0 1482.5,624.0 1485.7,625.5 1485.7,629.5 1482.5,631.0 1476.3,631.0 1473.2,629.5" fill="#f1ede6" stroke="#2a2a2a" stroke-width="0.9"/>
<line x1="1476.3" y1="625.5" x2="1476.3" y2="631.0" stroke="#555" stroke-width="0.6"/>
<line x1="1482.5" y1="625.5" x2="1482.5" y2="631.0" stroke="#555" stroke-width="0.6"/>
<path d="M828.8,779.5 V762.0 Q828.8,760.5 832.4,760.5 Q836.0,760.5 836.0,762.0 V779.5" fill="#f8f6f1" stroke="#2a2a2a" stroke-width="0.9"/>
<polygon points="826.1,779.5 829.3,778.0 835.5,778.0 838.6,779.5 838.6,783.5 835.5,785.0 829.3,785.0 826.1,783.5" fill="#f1ede6" stroke="#2a2a2a" stroke-width="0.9"/>
<line x1="829.3" y1="779.5" x2="829.3" y2="785.0" stroke="#555" stroke-width="0.6"/>
<line x1="835.5" y1="779.5" x2="835.5" y2="785.0" stroke="#555" stroke-width="0.6"/>
<path d="M860.8,818.1 V799.5 Q860.8,798.0 864.4,798.0 Q868.0,798.0 868.0,799.5 V818.1" fill="#f8f6f1" stroke="#2a2a2a" stroke-width="0.9"/>
<polygon points="858.1,818.1 861.3,816.6 867.5,816.6 870.6,818.1 870.6,822.1 867.5,823.6 861.3,823.6 858.1,822.1" fill="#f1ede6" stroke="#2a2a2a" stroke-width="0.9"/>
<line x1="861.3" y1="818.1" x2="861.3" y2="823.6" stroke="#555" stroke-width="0.6"/>
<line x1="867.5" y1="818.1" x2="867.5" y2="823.6" stroke="#555" stroke-width="0.6"/>
<path d="M1097.7,883.5 V866.2 Q1097.7,864.7 1101.3,864.7 Q1104.9,864.7 1104.9,866.2 V883.5" fill="#f8f6f1" stroke="#2a2a2a" stroke-width="0.9"/>
<polygon points="1095.0,883.5 1098.2,882.0 1104.4,882.0 1107.5,883.5 1107.5,887.5 1104.4,889.0 1098.2,889.0 1095.0,887.5" fill="#f1ede6" stroke="#2a2a2a" stroke-width="0.9"/>
<line x1="1098.2" y1="883.5" x2="1098.2" y2="889.0" stroke="#555" stroke-width="0.6"/>
<line x1="1104.4" y1="883.5" x2="1104.4" y2="889.0" stroke="#555" stroke-width="0.6"/>
<path d="M1127.7,856.8 V839.5 Q1127.7,838.0 1131.3,838.0 Q1134.9,838.0 1134.9,839.5 V856.8" fill="#f8f6f1" stroke="#2a2a2a" stroke-width="0.9"/>
<polygon points="1125.0,856.8 1128.2,855.3 1134.4,855.3 1137.5,856.8 1137.5,860.8 1134.4,862.3 1128.2,862.3 1125.0,860.8" fill="#f1ede6" stroke="#2a2a2a" stroke-width="0.9"/>
<line x1="1128.2" y1="856.8" x2="1128.2" y2="862.3" stroke="#555" stroke-width="0.6"/>
<line x1="1134.4" y1="856.8" x2="1134.4" y2="862.3" stroke="#555" stroke-width="0.6"/>
<path d="M1155.7,909.5 V876.0 Q1155.7,874.5 1159.3,874.5 Q1162.9,874.5 1162.9,876.0 V909.5" fill="#f8f6f1" stroke="#2a2a2a" stroke-width="0.9"/>
<polygon points="1153.0,909.5 1156.2,908.0 1162.4,908.0 1165.5,909.5 1165.5,913.5 1162.4,915.0 1156.2,915.0 1153.0,913.5" fill="#f1ede6" stroke="#2a2a2a" stroke-width="0.9"/>
<line x1="1156.2" y1="909.5" x2="1156.2" y2="915.0" stroke="#555" stroke-width="0.6"/>
<line x1="1162.4" y1="909.5" x2="1162.4" y2="915.0" stroke="#555" stroke-width="0.6"/>
<path d="M1411.9,818.5 V784.5 Q1411.9,783.0 1415.5,783.0 Q1419.1,783.0 1419.1,784.5 V818.5" fill="#f8f6f1" stroke="#2a2a2a" stroke-width="0.9"/>
<polygon points="1409.2,818.5 1412.4,817.0 1418.6,817.0 1421.8,818.5 1421.8,822.5 1418.6,824.0 1412.4,824.0 1409.2,822.5" fill="#f1ede6" stroke="#2a2a2a" stroke-width="0.9"/>
<line x1="1412.4" y1="818.5" x2="1412.4" y2="824.0" stroke="#555" stroke-width="0.6"/>
<line x1="1418.6" y1="818.5" x2="1418.6" y2="824.0" stroke="#555" stroke-width="0.6"/>
<line x1="1316.7" y1="317.4" x2="1087.4" y2="334.4" stroke="#1a1a1a" stroke-width="0.95"/>
<line x1="1318.0" y1="330.3" x2="1196.0" y2="382.5" stroke="#1a1a1a" stroke-width="0.95"/>
<line x1="1340.6" y1="341.0" x2="1364.0" y2="463.5" stroke="#1a1a1a" stroke-width="0.95"/>
<line x1="1358.6" y1="329.3" x2="1473.3" y2="508.5" stroke="#1a1a1a" stroke-width="0.95"/>
<line x1="1219.0" y1="413.5" x2="1272.5" y2="412.5" stroke="#1a1a1a" stroke-width="0.95"/>
<line x1="1312.7" y1="427.9" x2="1351.1" y2="494.8" stroke="#1a1a1a" stroke-width="0.95"/>
<line x1="842.1" y1="549.9" x2="818.6" y2="572.5" stroke="#1a1a1a" stroke-width="0.95"/>
<line x1="874.2" y1="554.6" x2="1102.0" y2="724.0" stroke="#1a1a1a" stroke-width="0.95"/>
<line x1="908.6" y1="781.2" x2="861.6" y2="658.8" stroke="#1a1a1a" stroke-width="0.95"/>
<line x1="942.5" y1="796.3" x2="1066.8" y2="779.4" stroke="#1a1a1a" stroke-width="0.95"/>
<line x1="1240.3" y1="498.6" x2="1207.4" y2="488.3" stroke="#1a1a1a" stroke-width="0.95"/>
<line x1="1238.5" y1="518.1" x2="1109.6" y2="496.5" stroke="#1a1a1a" stroke-width="0.95"/>
<line x1="1280.7" y1="539.0" x2="1369.4" y2="594.4" stroke="#1a1a1a" stroke-width="0.95"/>
<line x1="1317.1" y1="538.2" x2="1467.5" y2="610.3" stroke="#1a1a1a" stroke-width="0.95"/>
<line x1="948.6" y1="878.0" x2="1119.0" y2="847.7" stroke="#1a1a1a" stroke-width="0.95"/>
<line x1="970.5" y1="912.3" x2="1087.5" y2="879.4" stroke="#1a1a1a" stroke-width="0.95"/>
<line x1="890.0" y1="869.6" x2="870.6" y2="827.0" stroke="#1a1a1a" stroke-width="0.95"/>
<line x1="875.5" y1="903.7" x2="830.5" y2="789.2" stroke="#1a1a1a" stroke-width="0.95"/>
<line x1="1369.4" y1="895.4" x2="1413.7" y2="827.6" stroke="#1a1a1a" stroke-width="0.95"/>
<line x1="1289.4" y1="922.3" x2="1170.7" y2="909.0" stroke="#1a1a1a" stroke-width="0.95"/>
<line x1="1088.0" y1="340.0" x2="1101.0" y2="476.0" stroke="#1a1a1a" stroke-width="0.95"/>
<line x1="1196.5" y1="388.0" x2="1200.5" y2="475.0" stroke="#1a1a1a" stroke-width="0.95"/>
<line x1="1114.0" y1="447.0" x2="1120.6" y2="576.0" stroke="#1a1a1a" stroke-width="0.95"/>
<line x1="1366.0" y1="470.0" x2="1380.4" y2="599.0" stroke="#1a1a1a" stroke-width="0.95"/>
<line x1="1474.5" y1="513.5" x2="1479.4" y2="609.0" stroke="#1a1a1a" stroke-width="0.95"/>
<line x1="1391.5" y1="568.0" x2="1415.5" y2="783.0" stroke="#1a1a1a" stroke-width="0.95"/>
<line x1="812.0" y1="580.0" x2="831.5" y2="760.5" stroke="#1a1a1a" stroke-width="0.95"/>
<line x1="846.7" y1="650.0" x2="864.4" y2="798.0" stroke="#1a1a1a" stroke-width="0.95"/>
<line x1="1119.5" y1="731.0" x2="1131.3" y2="838.0" stroke="#1a1a1a" stroke-width="0.95"/>
<line x1="1088.5" y1="768.0" x2="1101.3" y2="864.7" stroke="#1a1a1a" stroke-width="0.95"/>
<line x1="1152.0" y1="818.0" x2="1159.3" y2="874.5" stroke="#1a1a1a" stroke-width="0.95"/>
<circle cx="1337.7" cy="319.8" r="19.5" fill="#fff" stroke="#000" stroke-width="2.5"/>
<path d="M1336.5,307.5 L1342.3,307.2 L1338.9,331.9 L1334.1,331.9 L1336.1,316.4 L1331.5,318.4 L1331.1,314.4 Z" fill="#df1119" stroke="#c8101a" stroke-width="0.6" stroke-linejoin="round"/>
<circle cx="1293" cy="417.6" r="19.5" fill="#fff" stroke="#000" stroke-width="2.5"/>
<text x="1293.6" y="429.7" text-anchor="middle" transform="translate(1293.0,0) scale(0.86,1) translate(-1293.0,0)" font-family="Liberation Sans" font-weight="bold" font-style="italic" font-size="34" fill="#df1119">4</text>
<circle cx="861.8" cy="536.8" r="19.5" fill="#fff" stroke="#000" stroke-width="2.5"/>
<text x="862.4" y="548.9" text-anchor="middle" transform="translate(861.8,0) scale(0.86,1) translate(-861.8,0)" font-family="Liberation Sans" font-weight="bold" font-style="italic" font-size="34" fill="#df1119">2</text>
<circle cx="921.3" cy="801.4" r="19.5" fill="#fff" stroke="#000" stroke-width="2.5"/>
<text x="921.9" y="813.5" text-anchor="middle" transform="translate(921.3,0) scale(0.86,1) translate(-921.3,0)" font-family="Liberation Sans" font-weight="bold" font-style="italic" font-size="34" fill="#df1119">3</text>
<text x="1248.2" y="503.5" font-family="Liberation Sans" font-style="italic" font-size="22" fill="#111" stroke="#111" stroke-width="0.55" textLength="54.8" lengthAdjust="spacingAndGlyphs">Болт</text>
<line x1="1239.0" y1="508.0" x2="1309.0" y2="508.0" stroke="#222" stroke-width="1.6"/>
<text x="1240.9" y="531.5" font-family="Liberation Sans" font-style="italic" font-size="22" fill="#111" stroke="#111" stroke-width="0.55" textLength="74.3" lengthAdjust="spacingAndGlyphs">M8x20</text>
<line x1="1239.0" y1="536.4" x2="1314.0" y2="536.4" stroke="#222" stroke-width="1.6"/>
<text x="886.5" y="889.1" font-family="Liberation Sans" font-style="italic" font-size="22" fill="#111" stroke="#111" stroke-width="0.55" textLength="54.8" lengthAdjust="spacingAndGlyphs">Болт</text>
<line x1="877.5" y1="894.0" x2="947.4" y2="894.0" stroke="#222" stroke-width="1.6"/>
<text x="879.2" y="918.3" font-family="Liberation Sans" font-style="italic" font-size="22" fill="#111" stroke="#111" stroke-width="0.55" textLength="88.4" lengthAdjust="spacingAndGlyphs">M10x20</text>
<line x1="877.5" y1="922.7" x2="967.6" y2="922.7" stroke="#222" stroke-width="1.6"/>
<text x="1300.7" y="905.7" font-family="Liberation Sans" font-style="italic" font-size="22" fill="#111" stroke="#111" stroke-width="0.55" textLength="53.6" lengthAdjust="spacingAndGlyphs">Болт</text>
<line x1="1292.2" y1="911.4" x2="1361.3" y2="911.4" stroke="#222" stroke-width="1.6"/>
<text x="1294" y="934.9" font-family="Liberation Sans" font-style="italic" font-size="22" fill="#111" stroke="#111" stroke-width="0.55" textLength="87.3" lengthAdjust="spacingAndGlyphs">M10x40</text>
<line x1="1292.0" y1="939.6" x2="1381.0" y2="939.6" stroke="#222" stroke-width="1.6"/>
<line x1="1480" y1="296" x2="1550" y2="233" stroke="#d7191f" stroke-width="3.2" stroke-linecap="round"/>
<polygon points="1578.5,206.5 1540.5,228.6 1553.6,243.2" fill="#e3161d" stroke="#e3161d" stroke-width="1" stroke-linejoin="round"/>
<g transform="translate(1448,263) rotate(-41)"><text x="0" y="0" font-family="Liberation Sans" font-size="21.8" fill="#d4161e" stroke="#d4161e" stroke-width="0.25">Направление</text><text x="24" y="27" font-family="Liberation Sans" font-size="21.8" fill="#d4161e" stroke="#d4161e" stroke-width="0.25">движения</text></g>
<path d="M1111,972 L1105.5,983 L1109.5,997.5 L1120,1001.5 L1137,1062 L1142,1063 L1149.5,1057.5 L1128,1000 L1133.5,989.5 L1129.5,975.5 L1118.5,970 L1122,986 L1116,988 Z" fill="#fff" stroke="#111" stroke-width="2.5" stroke-linejoin="miter"/>
<circle cx="1141.7" cy="1055.3" r="2.8" fill="#111"/>
</svg>

<div id="title" class="abs"><span class="first">И</span>нструкция по установке защиты</div>

<div id="steps" class="abs">1. Демонтировать штатный пластиковый пыльник.<br>
2. На переднюю балку заложить крепежные планки <span class="r">1</span>.<br>
3. Закрепить крепежные кронштейны <span class="r">4</span> к ранее заложенным крепежным планкам <span class="r">1</span><br>
болтами M8x20.<br>
4. Установить спереди пыльник на штатные точки крепления, к задним только<br>
приложить.<br>
5. Заложить в подрамнике к задней части защиты крепежные планки <span class="r">2</span>.<br>
6. На задние точки под пыльником установить крепежные кронштейны <span class="r">3</span> к ранее<br>
заложенным крепежным планкам <span class="r">2</span> болтами M10x20.<br>
7. Разметить и просверлить точки крепления защиты на пыльнике.<br>
8. Защиту установить поверх пыльника, используя полученные точки крепления.<br>
9. Переднюю часть защиты закрепить к крепежным кронштейнам <span class="r">4</span> болтами M10x<br>
40.<br>
10. Заднюю часть защиты закрепить к крепежным кронштейнам <span class="r">3</span> болтами M10x20.<br>
11. Все точки крепления затянуть.</div>

<!-- table text: baseline = rowtop + 15.5 -->
<div id="table">
  <div class="cell num" style="top:424.5px">№</div>
  <div class="cell" style="left:189px;width:331px;text-align:center;top:424.5px">Комплектация</div>
  <div class="cell qty" style="top:424.5px">Кол-во</div>

  <div class="cell num" style="top:445.6px">1</div><div class="cell name" style="top:445.6px">Болт M8x20</div><div class="cell qty" style="top:445.6px">4 шт.</div>
  <div class="cell num" style="top:466.6px">2</div><div class="cell name" style="top:466.6px">Болт M10x20</div><div class="cell qty" style="top:466.6px">4 шт.</div>
  <div class="cell num" style="top:488.8px">3</div><div class="cell name" style="top:488.8px">Болт M10x40</div><div class="cell qty" style="top:488.8px">2 шт.</div>
  <div class="cell num" style="top:510.1px">4</div><div class="cell name" style="top:510.1px">Шайба M8 (увеличенная)</div><div class="cell qty" style="top:510.1px">4 шт.</div>
  <div class="cell num" style="top:531.8px">5</div><div class="cell name" style="top:531.8px">Шайба M10 (увеличенная)</div><div class="cell qty" style="top:531.8px">6 шт.</div>
  <div class="cell num" style="top:554.6px">6</div><div class="cell name" style="top:554.6px">Крепежная планка <span class="r">1</span></div><div class="cell qty" style="top:554.6px">4 шт.</div>
  <div class="cell num" style="top:639.5px">7</div><div class="cell name" style="top:639.5px">Крепежная планка <span class="r">2</span></div><div class="cell qty" style="top:639.5px">2 шт.</div>
  <div class="cell num" style="top:716.2px">8</div><div class="cell name" style="top:716.2px">Крепёжный кронштейн <span class="r">3</span></div><div class="cell qty" style="top:716.2px">2 шт.</div>
  <div class="cell num" style="top:863.1px">9</div><div class="cell name" style="top:863.1px">Крепёжный кронштейн <span class="r">4</span></div><div class="cell qty" style="top:863.1px">2 шт.</div>
</div>

<div id="foot" class="abs">Произвести смазку крепёжных болтов маслом или другой<br>консервационной жидкостью</div>

<!-- right panel header -->
<div class="abs" style="left:1102px;top:52.8px;font-size:34.47px;line-height:40px;color:#111;">ALF2405st</div>
<div class="abs hdr" style="left:790.5px;top:101px;">Toyota Urban Cruiser</div>
<div class="abs hdr" style="left:1062px;top:101px;">Год выпуска: 2009-2014</div>
<div class="abs hdr" style="left:1361px;top:101px;">Объём двигателя: 1.3</div>
<div class="abs hdr" style="left:1070px;top:154px;">Защита картера и КПП</div>

<div id="specs" class="abs">Вес защиты: <b>7,1 кг</b><br>Вес комплектации: <b>1,85 кг</b><br>Размер защиты: <b>580x950x45</b><br>Момент затяжки:&nbsp; M8 - 15,7 Н*м<br>Момент затяжки:&nbsp; M10 - 32 Н*м</div>

<div id="logo" class="abs"><span class="a">автокомпоненты</span> <span class="b">из стали и алюминия</span></div>
<div id="discl" class="abs">Конструкторский отдел в праве изменять внешний вид, набор комплектующих, способ установки без уведомления потребителя</div>

</body>
</html>
